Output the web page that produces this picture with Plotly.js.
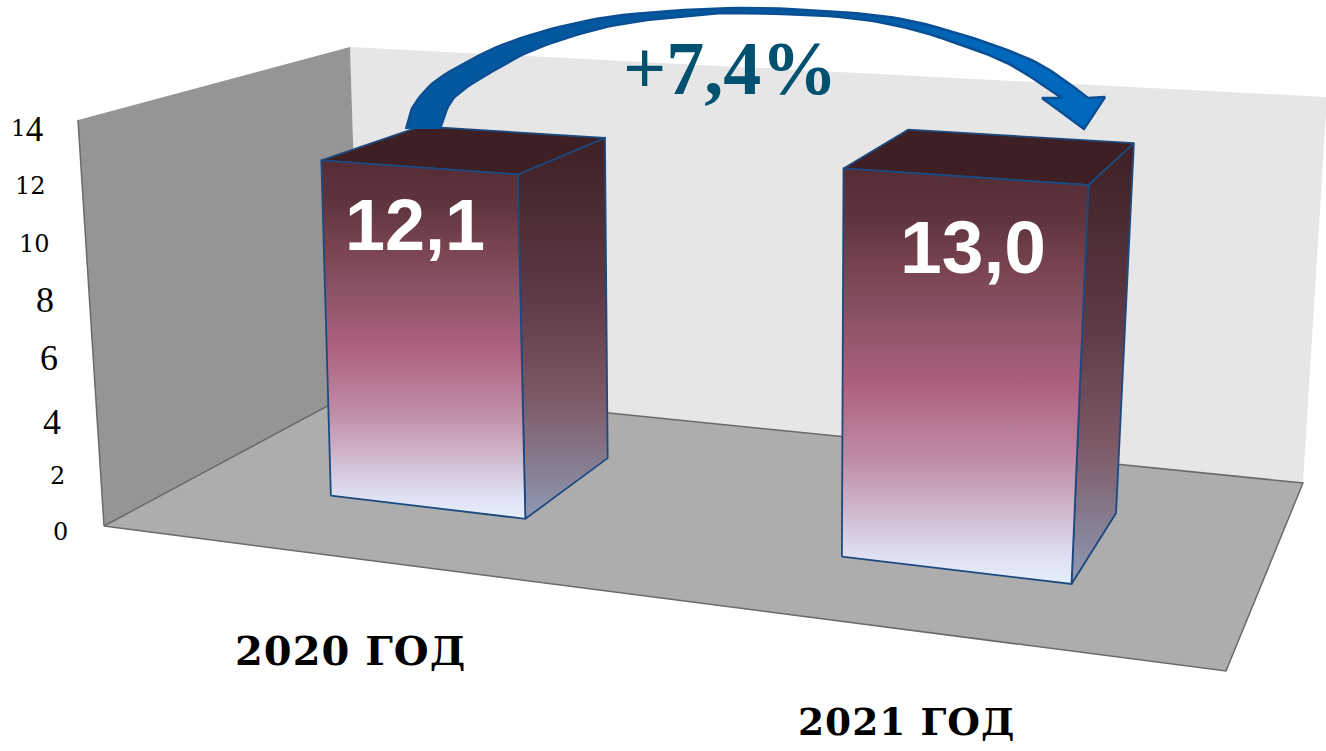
<!DOCTYPE html>
<html><head><meta charset="utf-8">
<script src="https://cdn.plot.ly/plotly-3.0.1.min.js"></script>
<style>html,body{margin:0;padding:0;background:#fff;overflow:hidden}#chart{width:1326px;height:751px}</style>
</head><body><div id="chart"></div>
<script>
// ---- data ----
const categories = ['2020 ГОД', '2021 ГОД'];
const values = [12.1, 13.0];
const growthLabel = '+7,4%';
const tickValues = [0, 2, 4, 6, 8, 10, 12, 14];
const zMax = 14;

// ---- perspective model: unit floor (u across, v into the picture) and the plane at zMax ----
const floorQuad = [[104,526],[1226,671],[1303,483],[361,388]];
const topQuad   = [[78,120],[1255,204],[1327,97],[350,47]];
const barTopShift = [[10,4],[8,1]];
const barCentres = [0.2515, 0.7515], barHalfWidth = 0.1, barDepth = [0.30, 0.70];

function quadMap(q){
  const [p0,p1,p2,p3]=q;
  const dx1=p1[0]-p2[0],dx2=p3[0]-p2[0],sx=p0[0]-p1[0]+p2[0]-p3[0];
  const dy1=p1[1]-p2[1],dy2=p3[1]-p2[1],sy=p0[1]-p1[1]+p2[1]-p3[1];
  const det=dx1*dy2-dx2*dy1;
  const g=(sx*dy2-dx2*sy)/det,h=(dx1*sy-sx*dy1)/det;
  const a=p1[0]-p0[0]+g*p1[0],b=p3[0]-p0[0]+h*p3[0],c=p0[0];
  const d=p1[1]-p0[1]+g*p1[1],e=p3[1]-p0[1]+h*p3[1],f=p0[1];
  return (u,v)=>{const w=g*u+h*v+1;return [(a*u+b*v+c)/w,(d*u+e*v+f)/w];};
}
const floorMap=quadMap(floorQuad), topMap=quadMap(topQuad);
function P(u,v,z,shift){
  const a=floorMap(u,v), b=topMap(u,v), t=z/zMax, s=shift||[0,0];
  return [a[0]+(b[0]+s[0]-a[0])*t, a[1]+(b[1]+s[1]-a[1])*t];
}

const traces=[];
function poly(pts,opts){
  const xs=pts.map(p=>p[0]).concat(pts[0][0]);
  const ys=pts.map(p=>p[1]).concat(pts[0][1]);
  const t=Object.assign({x:xs,y:ys,type:'scatter',mode:'lines',fill:'toself',hoverinfo:'skip',showlegend:false},opts);
  traces.push(t);
}
function vgrad(pts,scale){
  const ys=pts.map(p=>p[1]);
  return {type:'vertical',start:Math.min(...ys),stop:Math.max(...ys),colorscale:scale};
}

// walls and floor
poly([P(0,1,0),P(0,1,zMax),P(1,1,zMax),P(1,1,0)],{fillcolor:'#e6e6e6',line:{width:0,color:'#e6e6e6'}});
poly([P(0,0,0),P(0,0,zMax),P(0,1,zMax),P(0,1,0)],{fillcolor:'#959595',line:{width:0,color:'#959595'}});
traces.push({x:[P(0,0,zMax)[0],P(0,0,0)[0]],y:[P(0,0,zMax)[1],P(0,0,0)[1]],type:'scatter',mode:'lines',line:{color:'#6a6a6a',width:1.5},hoverinfo:'skip',showlegend:false});
poly([P(0,0,0),P(1,0,0),P(1,1,0),P(0,1,0)],{fillcolor:'#adadad',line:{width:1.5,color:'#6a6a6a'}});

// bars
const frontScale=[[0,'#562c34'],[0.12,'#5f343e'],[0.25,'#7a4552'],[0.37,'#8c5468'],[0.52,'#ad607e'],[0.70,'#bf8ca6'],[0.81,'#ceb2c9'],[0.94,'#dfe2f4'],[1,'#e6eefc']];
const sideScale=[[0,'#3d2024'],[0.42,'#5e3a46'],[0.69,'#7d5a68'],[1,'#8f9ab3']];
const edge={width:1.8,color:'#1d4a7e'};
values.forEach((val,i)=>{
  const u0=barCentres[i]-barHalfWidth,u1=barCentres[i]+barHalfWidth,v0=barDepth[0],v1=barDepth[1],s=barTopShift[i];
  const side=[P(u1,v0,0,s),P(u1,v0,val,s),P(u1,v1,val,s),P(u1,v1,0,s)];
  poly(side,{fillgradient:vgrad(side,sideScale),line:edge});
  poly([P(u0,v0,val,s),P(u1,v0,val,s),P(u1,v1,val,s),P(u0,v1,val,s)],{fillcolor:'#3e2024',line:edge});
  const front=[P(u0,v0,0,s),P(u0,v0,val,s),P(u1,v0,val,s),P(u1,v0,0,s)];
  poly(front,{fillgradient:vgrad(front,frontScale),line:edge});
});

// curved arrow between the bars (annotation graphic, in picture pixels)
const arrowOuter=[[406,129],[413,107],[433,83],[467,62],[507,43],[567,25],[633,14],[740,8],[840,12],[907,20],[973,38],[1027,58],[1057,75],[1088,98]];
const arrowHead=[[1105,97],[1084,129],[1042,98],[1062,98]];
const arrowInner=[[1062,98],[1040,83],[1007,63],[967,47],[907,28],[840,17],[740,13],[700,15],[633,22],[583,33],[533,50],[500,67],[467,87],[450,103],[440,129]];
function smooth(pts){
  const out=[];
  for(let i=0;i<pts.length-1;i++){
    const p0=pts[Math.max(i-1,0)],p1=pts[i],p2=pts[i+1],p3=pts[Math.min(i+2,pts.length-1)];
    for(let k=0;k<8;k++){
      const t=k/8,t2=t*t,t3=t2*t;
      const f=j=>0.5*(2*p1[j]+(p2[j]-p0[j])*t+(2*p0[j]-5*p1[j]+4*p2[j]-p3[j])*t2+(3*p1[j]-p0[j]-3*p2[j]+p3[j])*t3);
      out.push([f(0),f(1)]);
    }
  }
  out.push(pts[pts.length-1]);
  return out;
}
const arrowPts=smooth(arrowOuter).concat(arrowHead,smooth(arrowInner));
traces.push({x:arrowPts.map(p=>p[0]),y:arrowPts.map(p=>p[1]),type:'scatter',mode:'lines',fill:'toself',hoverinfo:'skip',showlegend:false,
  line:{color:'#0a4f94',width:2.5},
  fillgradient:{type:'horizontal',start:406,stop:1105,colorscale:[[0,'#03589f'],[0.6,'#03589f'],[0.85,'#0069bd'],[1,'#0069bd']]}});

// annotations
const ann=[];
const dj="'DejaVu Serif'";
function tickText(z){
  const s=String(z);
  if(z===14) return `<span style="font-family:${dj};font-size:23px;baseline-shift:-5px">1</span><sub>4</sub>`;
  if(z===12||z===10||z===2||z===0) return `<span style="font-family:${dj};font-size:24px">${s}</span>`;
  return s;
}
const tickNudgeX={0:3,2:4,4:2,6:3,8:3,10:-4,12:-4,14:-4};
const tickNudgeY={0:6,2:8,4:12,6:6,8:6,10:8,12:8,14:9};
tickValues.forEach(z=>{
  const p=P(0,0,z);
  ann.push({x:p[0]-47+tickNudgeX[z],y:p[1]+tickNudgeY[z],xref:'x',yref:'y',showarrow:false,text:tickText(z),
    font:{family:'Liberation Serif',size:z===14?50:36,color:'#000'}});
});
const catPos=[[350,650],[906,722]];
const catSize=[40,37.5];
categories.forEach((c,i)=>{
  ann.push({x:catPos[i][0],y:catPos[i][1],xref:'x',yref:'y',showarrow:false,
    text:`<span style="letter-spacing:1px">${c}</span>`,font:{family:'DejaVu Serif',size:catSize[i],weight:700,color:'#000'}});
});
const valPos=[[415,225],[973,247]];
values.forEach((v,i)=>{
  ann.push({x:valPos[i][0],y:valPos[i][1],xref:'x',yref:'y',showarrow:false,
    text:v.toFixed(1).replace('.',','),font:{family:'Liberation Sans',size:i?75:72,weight:700,color:'#fff'}});
});
ann.push({x:730,y:68,xref:'x',yref:'y',showarrow:false,text:growthLabel,
  font:{family:'Liberation Serif',size:76,weight:700,color:'#00506f'}});

const layout={
  width:1326,height:751,margin:{l:0,r:0,t:0,b:0},paper_bgcolor:'#fff',plot_bgcolor:'#fff',showlegend:false,
  xaxis:{range:[0,1326],visible:false,fixedrange:true},
  yaxis:{range:[751,0],visible:false,fixedrange:true},
  annotations:ann
};
Plotly.newPlot('chart',traces,layout,{displayModeBar:false,staticPlot:true});
</script></body></html>
